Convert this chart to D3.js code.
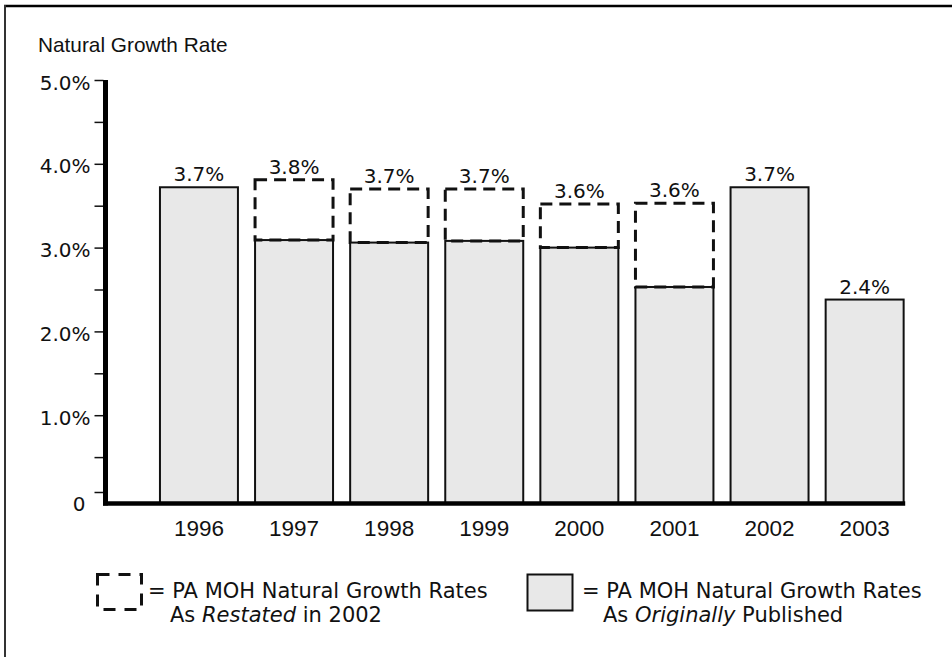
<!DOCTYPE html>
<html>
<head>
<meta charset="utf-8">
<script src="https://cdn.jsdelivr.net/npm/d3@7"></script>
<style>
  body { margin: 0; background: #fff; }
  svg { display: block; }
</style>
</head>
<body>
<div id="chart"></div>
<script>
// PA MOH natural growth rates, original vs restated
var years = ["1996", "1997", "1998", "1999", "2000", "2001", "2002", "2003"];
var original = [3.72, 3.09, 3.06, 3.08, 3.00, 2.53, 3.72, 2.38];
var restated = [null, 3.81, 3.70, 3.70, 3.52, 3.53, null, null];
var valueLabels = ["3.7%", "3.8%", "3.7%", "3.7%", "3.6%", "3.6%", "3.7%", "2.4%"];
var majorTicks = [0, 1, 2, 3, 4, 5];
var minorTicks = [0.5, 1.5, 2.5, 3.5, 4.5];

var W = 952, H = 657;
var axisX = 105.5, axisY = 503.5;

var svg = d3.select("#chart")
  .append("svg")
    .attr("width", W)
    .attr("height", H);

// frame
svg.append("line")
  .attr("x1", 4).attr("x2", W).attr("y1", 6).attr("y2", 6)
  .attr("stroke", "#000").attr("stroke-width", 2.5);
svg.append("line")
  .attr("x1", 5).attr("x2", 5).attr("y1", 5).attr("y2", H)
  .attr("stroke", "#333").attr("stroke-width", 2);

var x = d3.scaleBand()
  .domain(years)
  .range([151.4, 912.2])
  .paddingInner(0.18)
  .paddingOuter(0.09);

var y = d3.scaleLinear()
  .domain([0, 5])
  .range([499, 80]);

var data = years.map(function(d, i) {
  return {year: d, orig: original[i], rest: restated[i], label: valueLabels[i]};
});

// solid bars (as originally published)
svg.selectAll("rect.orig")
  .data(data)
  .enter()
  .append("rect")
    .attr("class", "orig")
    .attr("x", function(d) { return x(d.year); })
    .attr("y", function(d) { return y(d.orig); })
    .attr("width", x.bandwidth())
    .attr("height", function(d) { return axisY - y(d.orig); })
    .attr("fill", "#e8e8e8")
    .attr("stroke", "#111")
    .attr("stroke-width", 2);

// dashed boxes (as restated)
svg.selectAll("rect.rest")
  .data(data.filter(function(d) { return d.rest != null; }))
  .enter()
  .append("rect")
    .attr("class", "rest")
    .attr("x", function(d) { return x(d.year); })
    .attr("y", function(d) { return y(d.rest); })
    .attr("width", x.bandwidth())
    .attr("height", function(d) { return y(d.orig) - y(d.rest); })
    .attr("fill", "none")
    .attr("stroke", "#111")
    .attr("stroke-width", 3)
    .attr("stroke-dasharray", "12,7");

// value labels
svg.selectAll("text.val")
  .data(data)
  .enter()
  .append("text")
    .attr("class", "val")
    .attr("x", function(d) { return x(d.year) + x.bandwidth() / 2; })
    .attr("y", function(d) { return y(d.rest != null ? d.rest : d.orig) - 6; })
    .attr("text-anchor", "middle")
    .style("font-family", "'DejaVu Sans', Verdana, sans-serif")
    .style("font-size", "20px")
    .style("fill", "#111")
    .text(function(d) { return d.label; });

// y axis ticks
var yAxis = svg.append("g")
  .attr("transform", "translate(" + (axisX - 2) + ",0)")
  .call(d3.axisLeft(y)
    .tickValues(majorTicks)
    .tickSize(9)
    .tickPadding(4)
    .tickFormat(function(d) { return d === 0 ? "0" : d.toFixed(1) + "%"; }));
yAxis.select(".domain").remove();
yAxis.selectAll("line").attr("stroke", "#111").attr("stroke-width", 1.5);
yAxis.selectAll("text")
  .attr("dy", "0.45em")
  .style("font-family", "'DejaVu Sans', Verdana, sans-serif")
  .style("font-size", "20px")
  .style("fill", "#111");
// zero tick sits a little above the axis line
var zeroTick = yAxis.selectAll(".tick")
  .filter(function(d) { return d === 0; });
zeroTick.select("line")
  .attr("transform", "translate(0,-7)");
zeroTick.select("text")
  .attr("x", -18)
  .attr("dy", "0.55em");

var yMinor = svg.append("g")
  .attr("transform", "translate(" + (axisX - 2) + ",0)")
  .call(d3.axisLeft(y).tickValues(minorTicks).tickSize(9).tickFormat(""));
yMinor.select(".domain").remove();
yMinor.selectAll("line").attr("stroke", "#111").attr("stroke-width", 1.5);

// thick axis lines
svg.append("line")
  .attr("x1", axisX).attr("x2", axisX)
  .attr("y1", y(5)).attr("y2", axisY + 2)
  .attr("stroke", "#000").attr("stroke-width", 5);
svg.append("line")
  .attr("x1", axisX - 2.5).attr("x2", x.range()[1] - 7)
  .attr("y1", axisY).attr("y2", axisY)
  .attr("stroke", "#000").attr("stroke-width", 4.5);

// x axis labels
var xAxis = svg.append("g")
  .attr("transform", "translate(0," + axisY + ")")
  .call(d3.axisBottom(x).tickSize(0));
xAxis.select(".domain").remove();
xAxis.selectAll("text")
  .attr("y", 32)
  .attr("dy", 0)
  .style("font-family", "'Liberation Sans', Arial, sans-serif")
  .style("font-size", "22.5px")
  .style("fill", "#111");

// axis title
svg.append("text")
  .attr("x", 38)
  .attr("y", 52)
  .style("font-family", "'Liberation Sans', Arial, sans-serif")
  .style("font-size", "20.8px")
  .style("fill", "#111")
  .text("Natural Growth Rate");

// legend
var legFont = "'DejaVu Sans', Verdana, sans-serif";

svg.append("rect")
  .attr("x", 97.5).attr("y", 574.5)
  .attr("width", 44).attr("height", 35)
  .attr("fill", "none")
  .attr("stroke", "#111")
  .attr("stroke-width", 3)
  .attr("stroke-dasharray", "12,9");

var leg1 = svg.append("text")
  .style("font-family", legFont)
  .style("font-size", "21px")
  .style("fill", "#111");
leg1.append("tspan").attr("x", 148).attr("y", 598).text("= PA MOH Natural Growth Rates");
var l1b = leg1.append("tspan").attr("x", 170).attr("y", 622);
l1b.append("tspan").text("As ");
l1b.append("tspan").style("font-style", "italic").text("Restated");
l1b.append("tspan").text(" in 2002");

svg.append("rect")
  .attr("x", 527.5).attr("y", 574.5)
  .attr("width", 45).attr("height", 36)
  .attr("fill", "#e8e8e8")
  .attr("stroke", "#111")
  .attr("stroke-width", 2);

var leg2 = svg.append("text")
  .style("font-family", legFont)
  .style("font-size", "21px")
  .style("fill", "#111");
leg2.append("tspan").attr("x", 582).attr("y", 598).text("= PA MOH Natural Growth Rates");
var l2b = leg2.append("tspan").attr("x", 603).attr("y", 622);
l2b.append("tspan").text("As ");
l2b.append("tspan").style("font-style", "italic").text("Originally");
l2b.append("tspan").text(" Published");
</script>
</body>
</html>
